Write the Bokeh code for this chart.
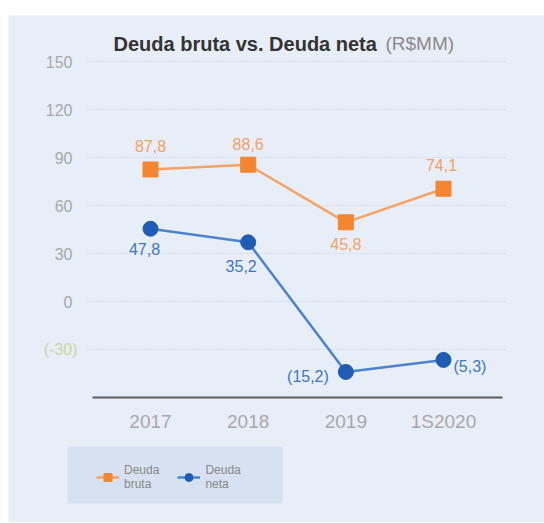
from bokeh.plotting import figure
from bokeh.models import (ColumnDataSource, FixedTicker, Label, Legend, LegendItem,
                          Range1d, BoxAnnotation, Grid)
from bokeh.core.properties import value
from bokeh.embed import file_html
from bokeh.resources import INLINE

# ---- data ----
categories = ["2017", "2018", "2019", "1S2020"]
deuda_bruta = [82.5, 85.5, 49.5, 70.5]          # plotted positions
deuda_neta = [45.5, 37.0, -44.0, -36.5]         # plotted positions
bruta_labels = ["87,8", "88,6", "45,8", "74,1"]
neta_labels = ["47,8", "35,2", "(15,2)", "(5,3)"]
y_ticks = [-30, 0, 30, 60, 90, 120, 150]
y_tick_labels = ["(-30)", "0", "30", "60", "90", "120", "150"]
series_names = ["Deuda\nbruta", "Deuda\nneta"]
title_main = "Deuda bruta vs. Deuda neta"
title_unit = "(R$MM)"

# ---- styles / layout ----
BG = "#e8eef7"
LEG_BG = "#d6e2f1"
ORANGE = "#f5862f"
ORANGE_LINE = "#f6a264"
ORANGE_TXT = "#f3a163"
BLUE = "#1f5db4"
BLUE_LINE = "#4a83cf"
BLUE_TXT = "#3b78c6"
GRAY = "#a8a8a8"
FONT = "Liberation Sans"

X_RANGE = (-1.454, 4.034)
Y_RANGE = (-138.1, 178.75)
AXIS_Y = -60            # where the category axis line sits
AXIS_X = -0.645         # where the value axis sits
AXIS_BOUNDS = (-0.594, 3.604)
GRID_X = (-0.645, 3.63)

xs = list(range(len(categories)))

p = figure(width=536, height=507, output_backend="svg", toolbar_location=None,
           x_range=Range1d(*X_RANGE), y_range=Range1d(*Y_RANGE),
           min_border_left=0, min_border_right=0, min_border_top=0, min_border_bottom=0,
           background_fill_color=BG, border_fill_color=BG, outline_line_color=None)
p.margin = (15, 0, 0, 8)

# grid lines (only across the plotting area)
p.xgrid.visible = False
if "cross_bounds" in Grid.properties():
    p.ygrid.ticker = FixedTicker(ticks=y_ticks)
    p.ygrid.cross_bounds = GRID_X
    p.ygrid.grid_line_color = "#c6cdd7"
    p.ygrid.grid_line_dash = "1 2"
    p.ygrid.grid_line_width = 1
else:
    p.ygrid.visible = False
    p.segment(x0=[GRID_X[0]] * len(y_ticks), x1=[GRID_X[1]] * len(y_ticks),
              y0=y_ticks, y1=y_ticks, line_color="#c6cdd7", line_dash="1 2",
              line_width=1)

# value axis
overrides = {t: s for t, s in zip(y_ticks, y_tick_labels)}
overrides[y_ticks[0]] = ""
ya = p.yaxis[0]
ya.fixed_location = AXIS_X
ya.ticker = FixedTicker(ticks=y_ticks)
ya.major_label_overrides = overrides
ya.axis_line_color = None
ya.major_tick_line_color = None
ya.minor_tick_line_color = None
ya.major_tick_out = 0
ya.major_tick_in = 0
ya.major_label_standoff = 15
ya.major_label_text_font = FONT
ya.major_label_text_font_size = "16px"
ya.major_label_text_color = GRAY

# green "(-30)" tick label
p.add_layout(Label(x=69, x_units="screen", y=y_ticks[0], y_units="data",
                   text=y_tick_labels[0], text_align="right", text_baseline="middle",
                   text_font=FONT, text_font_size="16px", text_color="#c4d8a0"))

# category axis
xa = p.xaxis[0]
xa.fixed_location = AXIS_Y
xa.bounds = AXIS_BOUNDS
xa.ticker = FixedTicker(ticks=xs)
xa.major_label_overrides = {i: c for i, c in zip(xs, categories)}
xa.axis_line_color = "#5a5a5a"
xa.axis_line_width = 2
xa.major_tick_line_color = None
xa.minor_tick_line_color = None
xa.major_tick_out = 0
xa.major_tick_in = 0
xa.major_label_standoff = 13
xa.major_label_text_font = FONT
xa.major_label_text_font_size = "19px"
xa.major_label_text_color = GRAY

# title
p.add_layout(Label(x=105, y=479, x_units="screen", y_units="screen", text=title_main,
                   text_font=FONT, text_font_style="bold", text_font_size="20px",
                   text_color="#333333", text_baseline="middle"))
p.add_layout(Label(x=377, y=479, x_units="screen", y_units="screen", text=title_unit,
                   text_font=FONT, text_font_size="19px",
                   text_color="#8a8a8a", text_baseline="middle"))

# series
l1 = p.line(xs, deuda_bruta, line_color=ORANGE_LINE, line_width=2.5)
s1 = p.scatter(xs, deuda_bruta, marker="square", size=15,
               fill_color=ORANGE, line_color=ORANGE)
l2 = p.line(xs, deuda_neta, line_color=BLUE_LINE, line_width=2.5)
s2 = p.scatter(xs, deuda_neta, marker="circle", size=15,
               fill_color=BLUE, line_color=BLUE)

# data labels
bsrc = ColumnDataSource(dict(x=xs, y=deuda_bruta, t=bruta_labels,
                             dx=[0, 0, 0, -2], dy=[-24, -21, 22, -24]))
p.text("x", "y", text="t", source=bsrc, x_offset="dx", y_offset="dy",
       text_align="center", text_baseline="middle", text_font=value(FONT),
       text_font_size="16px", text_color=ORANGE_TXT)
nsrc = ColumnDataSource(dict(x=xs, y=deuda_neta, t=neta_labels,
                             dx=[-6, -7, -17, 10], dy=[20, 24, 5, 7],
                             al=["center", "center", "right", "left"]))
p.text("x", "y", text="t", source=nsrc, x_offset="dx", y_offset="dy",
       text_align="al", text_baseline="middle", text_font=value(FONT),
       text_font_size="16px", text_color=BLUE_TXT)

# legend box + legend
p.add_layout(BoxAnnotation(left=59, right=274, bottom=19, top=76,
                           left_units="screen", right_units="screen",
                           bottom_units="screen", top_units="screen",
                           fill_color=LEG_BG, fill_alpha=1, line_color=None))
legend = Legend(items=[LegendItem(label=series_names[0], renderers=[l1, s1]),
                       LegendItem(label=series_names[1], renderers=[l2, s2])],
                orientation="horizontal", location=(88, 31), margin=0, padding=5,
                background_fill_alpha=0, border_line_color=None,
                glyph_width=23, glyph_height=20, label_standoff=5, spacing=18,
                label_text_font=FONT, label_text_font_size="12px",
                label_text_color="#888888", label_text_line_height=1.15)
p.add_layout(legend, "center")

open("out.html", "w").write(file_html(p, INLINE))
